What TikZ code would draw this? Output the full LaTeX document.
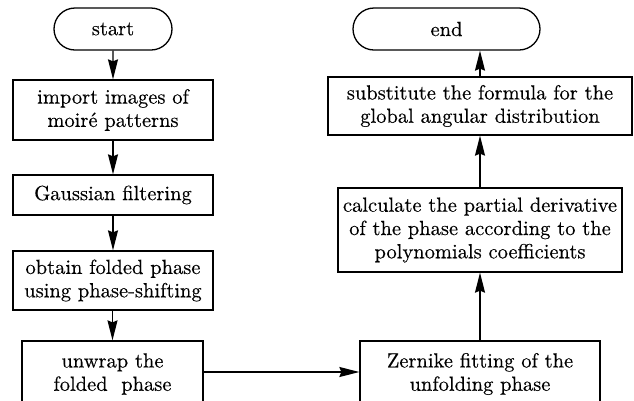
\documentclass[tikz,border=0pt]{standalone}
\usepackage{fontspec}
\setmainfont{lmroman10-regular.otf}[FakeBold=0.3]
\usetikzlibrary{shapes.misc,arrows.meta}
\begin{document}
\begin{tikzpicture}[x=1pt,y=-1pt,
  every node/.style={font=\fontsize{20.5}{23.3}\selectfont, align=center, inner sep=0pt},
  procbox/.style={draw, line width=1.3pt, rectangle},
  terminal/.style={draw, line width=1.3pt, rounded rectangle},
  flow/.style={line width=1.3pt, -{Stealth[length=20pt,width=10pt,inset=2pt]}}]
\useasboundingbox (0,0) rectangle (634,400);
\clip (0,0) rectangle (634,400);
% left column
\node[terminal, minimum width=118pt, minimum height=42pt] (start) at (113,29) {start};
\node[procbox, minimum width=200pt, minimum height=60pt] (import) at (113,110) {import images of\\moir\'e patterns};
\node[procbox, minimum width=200pt, minimum height=40pt] (gauss) at (113,195) {Gaussian filtering};
\node[procbox, minimum width=200pt, minimum height=59pt] (fold) at (113,280.5) {obtain folded phase\\using phase-shifting};
\node[procbox, minimum width=181pt, minimum height=66pt] (unwrap) at (112.5,374) {unwrap the\\folded\ \ phase};
% right column
\node[procbox, minimum width=240pt, minimum height=66pt] (zern) at (480,374) {Zernike fitting of the\\unfolding phase};
\node[procbox, minimum width=284pt, minimum height=84pt] (calc) at (480,230) {calculate the partial derivative\\of the phase according to the\\polynomials coefficients};
\node[procbox, minimum width=304pt, minimum height=58pt] (subst) at (480,106) {substitute the formula for the\\global angular distribution};
\node[terminal, minimum width=187pt, minimum height=42pt] (end) at (446.5,29) {end};
% connectors
\draw[flow] (start) -- (import);
\draw[flow] (import) -- (gauss);
\draw[flow] (gauss) -- (fold);
\draw[flow] (fold.south -| unwrap) -- (unwrap);
\draw[flow] (unwrap.east |- 0,372) -- (zern.west |- 0,372);
\draw[flow] (zern) -- (calc);
\draw[flow] (calc) -- (subst);
\draw[flow] (subst.north) -- (subst.north |- end.south);
\end{tikzpicture}
\end{document}
